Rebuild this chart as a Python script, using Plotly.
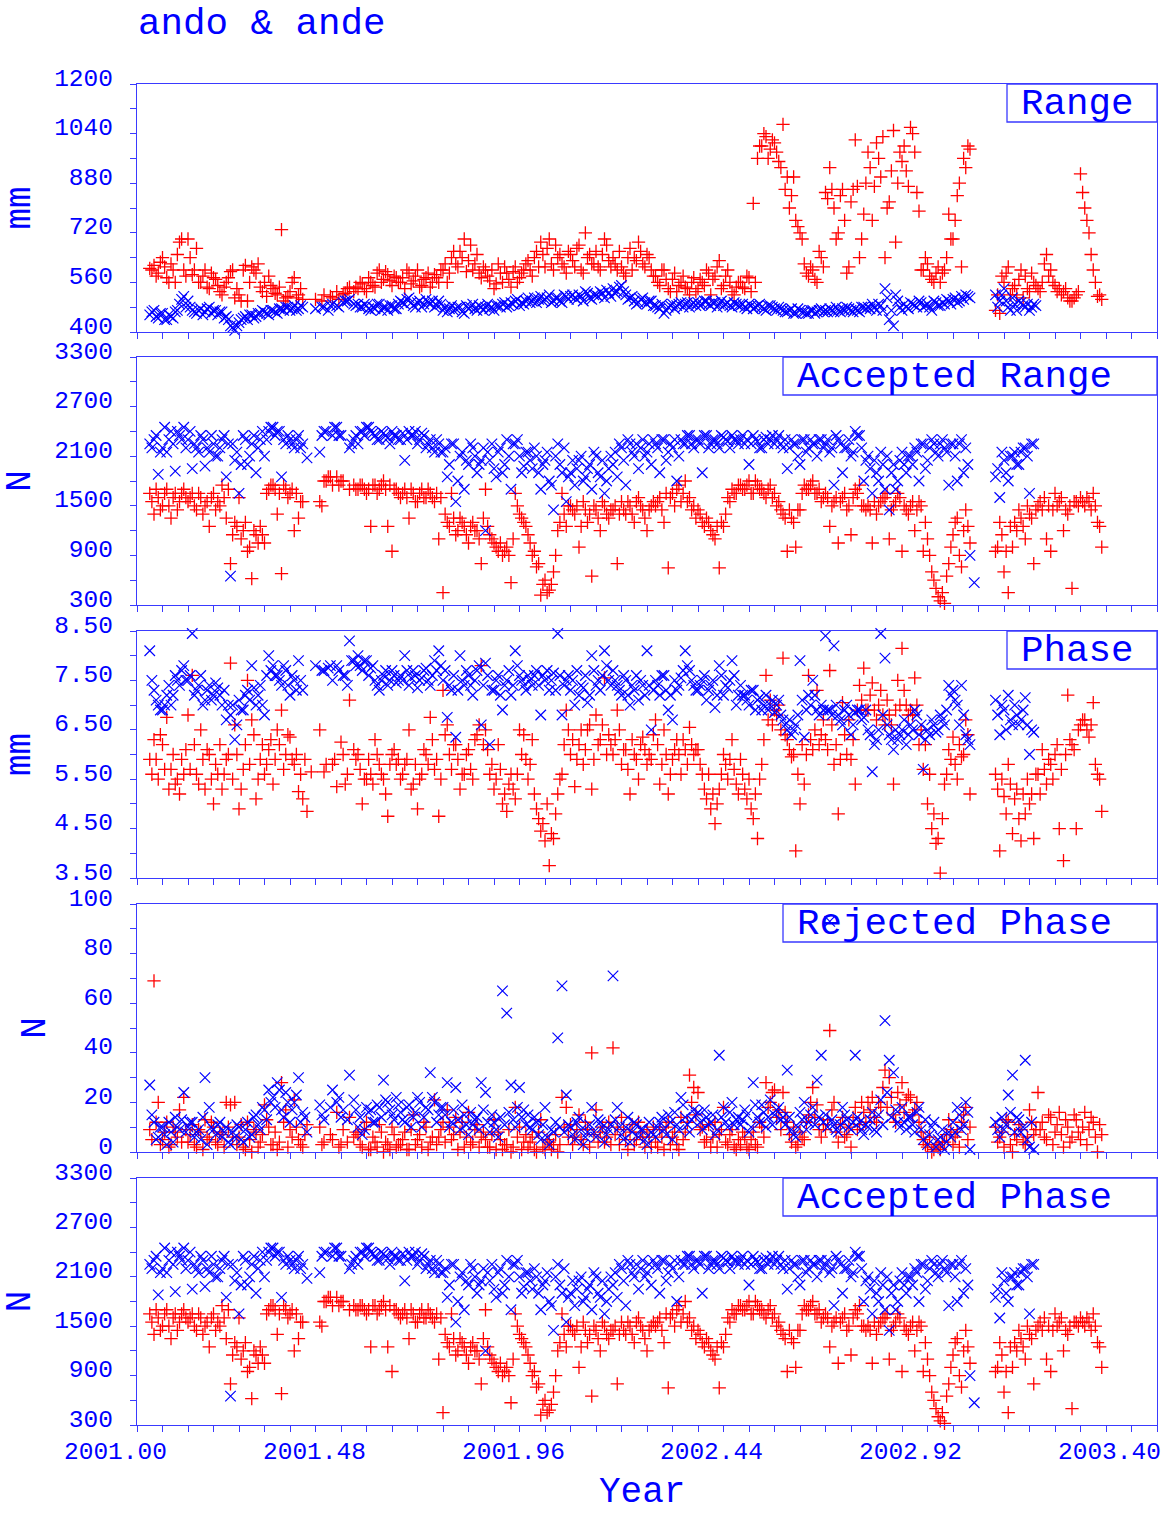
import plotly.graph_objects as go

# ---------------- data ----------------
years = [
    2001.02, 2001.03, 2001.04, 2001.05, 2001.06, 2001.07, 2001.08, 2001.09, 2001.10, 2001.11,
    2001.12, 2001.13, 2001.14, 2001.15, 2001.16, 2001.17, 2001.18, 2001.19, 2001.20, 2001.21,
    2001.22, 2001.23, 2001.24, 2001.25, 2001.26, 2001.27, 2001.28, 2001.29, 2001.30, 2001.31,
    2001.32, 2001.33, 2001.34, 2001.35, 2001.36, 2001.37, 2001.38, 2001.39, 2001.40, 2001.41,
    2001.42, 2001.43, 2001.44, 2001.45, 2001.46, 2001.47, 2001.48, 2001.49, 2001.50, 2001.51,
    2001.52, 2001.53, 2001.54, 2001.55, 2001.56, 2001.57, 2001.58, 2001.59, 2001.60, 2001.61,
    2001.62, 2001.63, 2001.64, 2001.65, 2001.66, 2001.67, 2001.68, 2001.69, 2001.70, 2001.71,
    2001.72, 2001.73, 2001.74, 2001.75, 2001.76, 2001.77, 2001.78, 2001.79, 2001.80, 2001.81,
    2001.82, 2001.83, 2001.84, 2001.85, 2001.86, 2001.87, 2001.88, 2001.89, 2001.90, 2001.91,
    2001.92, 2001.93, 2001.94, 2001.95, 2001.96, 2001.97, 2001.98, 2001.99, 2002.00, 2002.01,
    2002.02, 2002.03, 2002.04, 2002.05, 2002.06, 2002.07, 2002.08, 2002.09, 2002.10, 2002.11,
    2002.12, 2002.13, 2002.14, 2002.15, 2002.16, 2002.17, 2002.18, 2002.19, 2002.20, 2002.21,
    2002.22, 2002.23, 2002.24, 2002.25, 2002.26, 2002.27, 2002.28, 2002.29, 2002.30, 2002.31,
    2002.32, 2002.33, 2002.34, 2002.35, 2002.36, 2002.37, 2002.38, 2002.39, 2002.40, 2002.41,
    2002.42, 2002.43, 2002.44, 2002.45, 2002.46, 2002.47, 2002.48, 2002.49, 2002.50, 2002.51,
    2002.52, 2002.53, 2002.54, 2002.55, 2002.56, 2002.57, 2002.58, 2002.59, 2002.60, 2002.61,
    2002.62, 2002.63, 2002.64, 2002.65, 2002.66, 2002.67, 2002.68, 2002.69, 2002.70, 2002.71,
    2002.72, 2002.73, 2002.74, 2002.75, 2002.76, 2002.77, 2002.78, 2002.79, 2002.80, 2002.81,
    2002.82, 2002.83, 2002.84, 2002.85, 2002.86, 2002.87, 2002.88, 2002.89, 2002.90, 2002.91,
    2002.92, 2002.93, 2002.94, 2002.95, 2002.96, 2002.97, 2002.98, 2002.99, 2003.00, 2003.01,
    2003.02, 2003.03, 2003.04, 2003.05, 2003.06, 2003.07, 2003.08, 2003.09, 2003.10, 2003.11,
    2003.12, 2003.13, 2003.14, 2003.15, 2003.16, 2003.17, 2003.18, 2003.19, 2003.20, 2003.21,
    2003.22, 2003.23, 2003.24, 2003.25, 2003.26, 2003.27, 2003.28, 2003.29, 2003.30, 2003.31,
]
years_b = [
    2001.025, 2001.035, 2001.045, 2001.055, 2001.065, 2001.075, 2001.085, 2001.095, 2001.105, 2001.115,
    2001.125, 2001.135, 2001.145, 2001.155, 2001.165, 2001.175, 2001.185, 2001.195, 2001.205, 2001.215,
    2001.225, 2001.235, 2001.245, 2001.255, 2001.265, 2001.275, 2001.285, 2001.295, 2001.305, 2001.315,
    2001.325, 2001.335, 2001.345, 2001.355, 2001.365, 2001.375, 2001.385, 2001.395, 2001.405, 2001.415,
    2001.425, 2001.435, 2001.445, 2001.455, 2001.465, 2001.475, 2001.485, 2001.495, 2001.505, 2001.515,
    2001.525, 2001.535, 2001.545, 2001.555, 2001.565, 2001.575, 2001.585, 2001.595, 2001.605, 2001.615,
    2001.625, 2001.635, 2001.645, 2001.655, 2001.665, 2001.675, 2001.685, 2001.695, 2001.705, 2001.715,
    2001.725, 2001.735, 2001.745, 2001.755, 2001.765, 2001.775, 2001.785, 2001.795, 2001.805, 2001.815,
    2001.825, 2001.835, 2001.845, 2001.855, 2001.865, 2001.875, 2001.885, 2001.895, 2001.905, 2001.915,
    2001.925, 2001.935, 2001.945, 2001.955, 2001.965, 2001.975, 2001.985, 2001.995, 2002.005, 2002.015,
    2002.025, 2002.035, 2002.045, 2002.055, 2002.065, 2002.075, 2002.085, 2002.095, 2002.105, 2002.115,
    2002.125, 2002.135, 2002.145, 2002.155, 2002.165, 2002.175, 2002.185, 2002.195, 2002.205, 2002.215,
    2002.225, 2002.235, 2002.245, 2002.255, 2002.265, 2002.275, 2002.285, 2002.295, 2002.305, 2002.315,
    2002.325, 2002.335, 2002.345, 2002.355, 2002.365, 2002.375, 2002.385, 2002.395, 2002.405, 2002.415,
    2002.425, 2002.435, 2002.445, 2002.455, 2002.465, 2002.475, 2002.485, 2002.495, 2002.505, 2002.515,
    2002.525, 2002.535, 2002.545, 2002.555, 2002.565, 2002.575, 2002.585, 2002.595, 2002.605, 2002.615,
    2002.625, 2002.635, 2002.645, 2002.655, 2002.665, 2002.675, 2002.685, 2002.695, 2002.705, 2002.715,
    2002.725, 2002.735, 2002.745, 2002.755, 2002.765, 2002.775, 2002.785, 2002.795, 2002.805, 2002.815,
    2002.825, 2002.835, 2002.845, 2002.855, 2002.865, 2002.875, 2002.885, 2002.895, 2002.905, 2002.915,
    2002.925, 2002.935, 2002.945, 2002.955, 2002.965, 2002.975, 2002.985, 2002.995, 2003.005, 2003.015,
    2003.025, 2003.035, 2003.045, 2003.055, 2003.065, 2003.075, 2003.085, 2003.095, 2003.105, 2003.115,
    2003.125, 2003.135, 2003.145, 2003.155, 2003.165, 2003.175, 2003.185, 2003.195, 2003.205, 2003.215,
    2003.225, 2003.235, 2003.245, 2003.255, 2003.265, 2003.275, 2003.285, 2003.295, 2003.305, 2003.315,
]
N = None

# ---- Range (mm) ----
range_ando = [  # red +
    N, 605, 615, 590, 640, 575, 620, 560, 690, 600,
    700, 585, 670, 560, 600, 540, 575, 550, 520, 560,
    595, 510, 520, 600, 500, 610, 590, 545, 560, 580,
    540, 520, 730, 510, 530, 575, 520, 505, N, N,
    505, N, 520, N, 510, 530, N, 525, 545, 530,
    540, 555, 530, 560, 545, 600, 570, 585, 550, 575,
    560, 540, 590, 565, 600, 550, 575, 545, 585, 560,
    600, 560, 640, 620, 660, 700, 630, 600, 650, 575,
    600, 565, 540, 620, 560, 590, 545, 610, 575, 600,
    630, 580, 660, 690, 610, 700, 600, 640, 620, 590,
    650, 610, 680, 590, 640, 620, 660, 600, 700, 630,
    640, 600, 610, 580, 670, 640, 690, 620, 650, 600,
    580, 550, 600, 540, 570, 530, 560, 545, 520, 575,
    540, 560, 600, 520, 580, 630, 550, 600, 530, 545,
    560, 540, 575, 815, 960, 1000, 1030, 990, 1010, 950,
    1070, 900, 840, 760, 720, 620, 580, 600, 560, 640,
    850, 930, 800, 720, 860, 590, 820, 1020, 640, 780,
    980, 760, 1010, 900, 640, 820, 1050, 880, 950, 920,
    1060, 980, 790, 600, 620, 570, 590, 560, 600, 780,
    700, 840, 610, 930, 990, N, N, N, N, N,
    470, 460, 560, 610, 540, 520, 600, 580, 530, 560,
    540, 560, 650, 600, 550, 540, 530, 510, 500, 520,
    910, 800, 720, 600, 515, 505, N, N, N, N,
]
range_ando_b = [
    N, 600, 580, 625, 610, 560, 600, 650, 700, 580,
    640, 600, 560, 580, 545, 590, 570, 530, 545, 575,
    600, 540, 500, 615, 560, 600, 620, 530, 515, 550,
    525, 545, 500, 515, 560, 510, 540, N, N, N,
    N, 500, N, 515, N, 505, 520, 540, N, 545,
    560, 540, 575, 550, 590, 560, 595, 565, 580, 560,
    575, 600, 555, 580, 545, 570, 590, 560, 575, 600,
    620, 590, 660, 610, 640, 595, 680, 620, 590, 610,
    580, 600, 555, 590, 610, 570, 595, 560, 590, 620,
    600, 640, 610, 650, 670, 620, 680, 650, 610, 660,
    630, 670, 600, 720, 650, 620, 610, 650, 680, 610,
    620, 660, 590, 640, 600, 630, 660, 610, 640, 580,
    560, 600, 570, 530, 590, 550, 580, 540, 560, 530,
    570, 550, 590, 570, 610, 540, 580, 560, 520, 560,
    545, 580, 530, 560, 1000, 1040, 960, 1020, 980, 930,
    860, 800, 900, 740, 700, 590, 610, 570, 660, 610,
    830, 860, 700, 840, 760, 610, 860, 870, 700, 880,
    930, 870, 960, 1030, 800, 920, 690, 980, 1000, 870,
    1040, 850, 600, 640, 580, 560, 610, 590, 640, 700,
    760, 880, 960, 1000, N, N, N, N, N, N,
    520, 580, 590, 520, 550, 570, 510, 540, 590, 550,
    530, 620, 580, 560, 530, 520, 540, 500, 510, 530,
    850, 760, 650, 560, 520, N, N, N, N, N,
]
range_ande = [  # blue x
    N, 455, 470, 445, 460, 440, 450, 465, 490, 515,
    500, 470, 460, 475, 465, 480, 470, 455, 465, 450,
    420, 405, 430, 445, 440, 455, 450, 460, 465, 455,
    470, 460, 475, 480, 470, 485, 475, 480, N, N,
    475, N, 480, 470, 490, 485, N, 500, 505, 490,
    490, 480, 485, 470, 475, 490, 480, 470, 485, 475,
    500, 490, 510, 485, 495, 480, 505, 490, 480, 500,
    470, 465, 485, 475, 480, 460, 475, 490, 470, 480,
    480, 475, 470, 485, 490, 480, 495, 500, 485, 490,
    510, 500, 495, 515, 505, 520, 500, 510, 495, 515,
    515, 510, 520, 500, 525, 505, 520, 530, 510, 525,
    540, 530, 550, 520, 510, 500, 495, 510, 490, 500,
    485, 475, 460, 480, 490, 485, 495, 490, 480, 495,
    495, 490, 500, 485, 495, 490, 485, 495, 480, 490,
    485, 480, 490, 475, 485, 480, 470, 485, 475, 480,
    470, 465, 475, 460, 470, 465, 460, 470, 465, 475,
    470, 475, 465, 470, 475, 480, 470, 475, 465, 480,
    480, 490, 470, 485, 540, 440, 420, 500, 470, 480,
    495, 485, 500, 480, 490, 470, 495, 485, 490, 500,
    505, 495, 515, 520, 510, N, N, N, N, N,
    520, 500, 540, 480, 510, 470, 495, 480, 470, 490,
    N, N, N, N, N, N, N, N, N, N,
    N, N, N, N, N, N, N, N, N, N,
]
range_ande_b = [
    N, 465, 450, 460, 440, 455, 445, 470, 505, 480,
    480, 465, 470, 455, 475, 460, 470, 465, 445, 440,
    415, 420, 440, 450, 455, 445, 460, 470, 460, 470,
    465, 475, 470, 480, 475, 470, 485, N, N, N,
    N, 480, N, 485, N, 480, 495, 500, N, 485,
    480, 490, 475, 480, 490, 470, 480, 485, 475, 490,
    495, 505, 495, 480, 500, 490, 495, 500, 485, 490,
    480, 475, 470, 480, 465, 485, 480, 475, 485, 470,
    490, 480, 485, 480, 495, 485, 490, 505, 495, 500,
    495, 510, 505, 500, 510, 495, 510, 500, 520, 505,
    520, 505, 515, 530, 510, 520, 515, 525, 535, 515,
    525, 545, 530, 505, 515, 490, 505, 495, 500, 485,
    480, 490, 470, 485, 475, 490, 480, 495, 490, 485,
    485, 500, 490, 495, 480, 500, 490, 485, 495, 485,
    490, 475, 485, 480, 490, 475, 485, 480, 470, 475,
    465, 470, 460, 475, 465, 460, 470, 460, 470, 465,
    465, 470, 480, 465, 470, 475, 465, 470, 480, 475,
    475, 480, 490, 470, 510, 470, 520, 480, 490, 475,
    490, 480, 495, 485, 480, 500, 485, 495, 505, 490,
    510, 500, 505, 515, N, N, N, N, N, N,
    480, 520, 500, 470, 490, 500, 485, 490, 480, 485,
    N, N, N, N, N, N, N, N, N, N,
    N, N, N, N, N, N, N, N, N, N,
]

# ---- Accepted Range (N) ----
acc_range_ando = [
    N, 1650, 1400, 1600, 1500, 1700, 1350, 1650, 1550, 1700,
    1550, 1650, 1450, 1600, 1500, 1250, 1650, 1550, 1750, 1350,
    800, 1300, 1600, 1200, 950, 620, 1150, 1250, 1050, 1700,
    1750, 1400, 680, 1700, 1650, 1200, 1350, 1550, N, N,
    N, 1550, 1800, 1850, 1750, 1850, 1800, N, 1700, 1750,
    1700, 1750, 1650, 1250, 1750, 1700, 1800, 1250, 950, 1700,
    1600, 1700, 1350, 1650, 1550, 1700, 1600, 1650, 1550, 1100,
    450, 1300, 1650, 1150, 1350, 1250, 1050, 1300, 1200, 800,
    1700, 1150, 1050, 950, 900, 1000, 570, 1650, 1400, 1300,
    1150, 900, 760, 420, 600, 480, 700, 1200, 1650, 1250,
    1500, 1400, 1000, 1550, 1300, 650, 1450, 1200, 1500, 1350,
    1450, 800, 1550, 1400, 1500, 1300, 1600, 1450, 1200, 1500,
    1500, 1600, 1300, 750, 1650, 1700, 1550, 1800, 1600, 1500,
    1450, 1300, 1350, 1200, 1100, 750, 1250, 1600, 1700, 1650,
    1750, 1700, 1800, 1650, 1750, 1700, 1600, 1750, 1650, 1550,
    1400, 950, 1350, 1000, 1450, 1750, 1700, 1800, 1650, 1550,
    1650, 1250, 1550, 1050, 1600, 1450, 1150, 1700, 1750, 1500,
    1500, 1050, 1400, 1550, 1600, 1100, 1500, 1650, 950, 1450,
    1500, 1200, 1550, 950, 1100, 700, 500, 350, 320, 800,
    1150, 1350, 760, 1450, 1050, N, N, N, N, N,
    950, 1300, 700, 450, 1000, 1200, 1350, 1100, 1400, 800,
    1500, 1450, 1100, 950, 1650, 1550, 1200, 1400, 500, 1550,
    1600, 1500, 1550, 1650, 1300, 1000, N, N, N, N,
]
acc_range_ando_b = [
    N, 1550, 1700, 1450, 1650, 1500, 1600, 1450, 1650, 1600,
    1600, 1500, 1650, 1400, 1550, 1600, 1450, 1500, 1600, 1700,
    1150, 1250, 1100, 1300, 1000, 1200, 1050, 1150, 1650, 1750,
    1700, 1650, 1750, 1600, 1700, 1650, 1550, N, N, N,
    N, 1500, 1800, 1850, N, 1750, 1800, N, N, 1700,
    1750, 1700, 1700, 1750, 1650, 1750, 1700, 1750, 1700, 1650,
    1650, 1600, 1700, 1550, 1650, 1600, 1700, 1600, 1650, 1600,
    1400, 1250, 1350, 1200, 1300, 1150, 1250, 1200, 1100, 1350,
    1250, 1100, 1000, 1050, 950, 900, 1100, 1500, 1350, 1250,
    1050, 950, 800, 550, 450, 550, 900, 1300, 1400, 1500,
    1450, 1500, 1250, 1450, 1400, 1500, 1350, 1550, 1400, 1450,
    1500, 1400, 1450, 1550, 1400, 1550, 1500, 1350, 1450, 1550,
    1550, 1450, 1650, 1600, 1500, 1750, 1650, 1550, 1450, 1350,
    1400, 1250, 1300, 1150, 1250, 1300, 1400, 1550, 1650, 1750,
    1700, 1750, 1650, 1800, 1700, 1650, 1700, 1600, 1500, 1450,
    1350, 1450, 1300, 1450, 1650, 1700, 1750, 1650, 1700, 1600,
    1600, 1500, 1600, 1550, 1650, 1500, 1600, 1650, 1500, 1450,
    1450, 1550, 1500, 1600, 1650, 1450, 1550, 1600, 1500, 1400,
    1550, 1450, 1500, 1300, 900, 600, 400, 450, 650, 1000,
    1300, 900, 1200, 1250, N, N, N, N, N, N,
    1000, 1150, 950, 1250, 1300, 1450, 1250, 1500, 1350, 1450,
    1550, 1600, 1500, 1450, 1500, 1600, 1450, 1500, 1550, 1500,
    1550, 1600, 1450, 1500, 1250, N, N, N, N, N,
]
acc_range_ande = [
    N, 2250, 2300, 1880, 2200, 2150, 2400, 1920, 2350, 2450,
    2300, 1950, 2200, 2350, 1980, 2150, 2250, 2100, 2300, 1850,
    650, 2050, 1650, 2350, 2000, 2250, 1900, 2300, 2100, 2400,
    2450, 2400, 1850, 2250, 2300, 2200, 2350, 2250, 2080, N,
    N, 2150, 2400, N, 2350, 2450, 2350, N, 2200, 2300,
    2250, 2400, 2450, 2400, 2350, 2300, 2380, 2320, 2400, 2350,
    2300, 2050, 2400, 2350, 2250, 2380, 2200, 2300, 2150, 2250,
    2150, 1850, 2250, 1550, 2100, 1700, 2000, 2200, 1900, 2050,
    1200, 2050, 1950, 2150, 1900, 2300, 1700, 2250, 2100, 1980,
    2150, 1950, 2100, 1700, 2050, 1800, 1450, 2250, 1900, 1550,
    1900, 1750, 2050, 1800, 1950, 1700, 2100, 1850, 1650, 1950,
    2000, 1850, 2200, 1750, 2250, 2100, 1950, 2300, 2150, 2000,
    2250, 1900, 2300, 2150, 2200, 1800, 2300, 2250, 2350, 2200,
    2300, 1900, 2350, 2250, 2300, 2200, 2330, 2280, 2350, 2300,
    2300, 2250, 2000, 2350, 2280, 2200, 2330, 2300, 2250, 2350,
    2200, 1950, 2300, 2250, 2000, 2300, 2200, 2250, 2100, 2300,
    2250, 2150, 1750, 2300, 1900, 2200, 2100, 2400, 2350, 1800,
    2100, 1650, 1900, 2150, 1700, 1450, 2000, 1800, 2150, 1900,
    2100, 2200, 1800, 2250, 2050, 2300, 2150, 2250, 2200, 1750,
    2250, 1800, 2300, 2200, 900, 570, N, N, N, N,
    1850, 1600, 2050, 1800, 2100, 2000, 2150, 2200, 1650, 2250,
    N, N, N, N, N, N, N, N, N, N,
    N, N, N, N, N, N, N, N, N, N,
]
acc_range_ande_b = [
    N, 2200, 2350, 2150, 2450, 2300, 2250, 2400, 2300, 2200,
    2400, 2250, 2150, 2300, 2200, 2350, 2100, 2200, 2350, 2250,
    2250, 2150, 2000, 2300, 2100, 2350, 2200, 2400, 2300, 2450,
    2350, 2400, 2300, 2350, 2250, 2300, 2200, N, N, N,
    N, 2350, 2400, N, 2450, 2350, N, N, 2250, 2350,
    2400, 2350, 2450, 2380, 2300, 2400, 2350, 2250, 2350, 2300,
    2380, 2300, 2350, 2400, 2300, 2350, 2250, 2200, 2300, 2150,
    2200, 2000, 2250, 1800, 2150, 2050, 2250, 2100, 2000, 2200,
    2150, 2250, 1850, 2200, 2000, 2100, 2250, 2300, 1900, 2150,
    2050, 2200, 1900, 2000, 2150, 1750, 2100, 2000, 2200, 1850,
    2050, 1950, 2100, 1850, 2000, 2150, 1900, 2050, 1800, 2100,
    2150, 2250, 2050, 2300, 2150, 2250, 2200, 2100, 2250, 2300,
    2200, 2300, 2050, 2250, 2300, 2100, 2250, 2350, 2250, 2300,
    2250, 2350, 2200, 2300, 2250, 2350, 2300, 2200, 2300, 2250,
    2350, 2300, 2250, 2300, 2200, 2300, 2250, 2350, 2300, 2250,
    2300, 2200, 2250, 2100, 2300, 2150, 2300, 2250, 2300, 2200,
    2300, 2200, 2350, 2250, 2200, 2300, 2150, 2350, 2200, 2050,
    1950, 2050, 1800, 2000, 2100, 1900, 1700, 2050, 2000, 2100,
    2000, 2150, 2250, 1950, 2200, 2250, 2100, 2300, 2150, 2250,
    2100, 2250, 1900, 2000, N, N, N, N, N, N,
    1950, 2150, 1900, 2100, 2150, 2000, 2200, 2100, 2250, N,
    N, N, N, N, N, N, N, N, N, N,
    N, N, N, N, N, N, N, N, N, N,
]

# ---- Phase (mm) ----
phase_ando = [
    N, 5.9, 6.3, 5.5, 6.2, 6.75, 5.7, 5.4, 5.2, 5.6,
    6.8, 7.6, 5.6, 6.5, 5.3, 6.0, 5.0, 5.6, 5.3, 5.9,
    7.85, 6.6, 4.9, 5.7, 7.5, 6.7, 5.1, 5.9, 5.6, 6.1,
    5.4, 6.5, 6.9, 6.0, 6.35, 5.8, 5.25, 5.1, 4.85, 5.65,
    N, 6.5, 5.65, N, 5.8, 5.35, 6.25, 5.4, 7.1, 6.1,
    6.0, 5.0, 5.5, 5.6, 6.3, 5.8, 5.5, 4.75, 6.0, 5.8,
    5.5, 5.8, 6.5, 5.4, 4.9, 5.6, 6.0, 6.75, 5.7, 4.75,
    7.3, 6.6, 5.7, 6.2, 5.3, 5.6, 6.1, 5.5, 6.4, 7.8,
    6.5, 5.6, 5.3, 6.2, 5.0, 4.85, 5.6, 5.1, 6.5, 6.4,
    5.5, 6.3, 4.9, 4.45, 4.25, 3.75, 4.3, 5.2, 5.6, 6.9,
    6.0, 5.35, 6.2, 5.8, 6.5, 5.3, 6.8, 6.3, 7.55, 6.4,
    6.0, 6.9, 5.8, 6.1, 5.2, 6.0, 5.5, 6.35, 5.8, 5.9,
    6.7, 5.4, 6.5, 5.2, 5.9, 6.3, 5.6, 6.1, 6.55, 6.0,
    6.1, 5.6, 5.1, 4.9, 4.6, 5.3, 6.0, 5.5, 6.3, 5.4,
    5.9, 5.3, 5.5, 4.7, 4.3, 5.8, 7.6, 7.1, 6.9, 7.0,
    7.95, 6.3, 5.95, 4.05, 5.0, 5.4, 7.6, 6.1, 7.3, 6.4,
    6.3, 7.7, 5.8, 4.8, 7.05, 6.0, 5.9, 5.4, 7.4, 7.75,
    6.9, 7.45, 6.7, 7.3, 6.6, 6.8, 5.4, 7.5, 8.15, 7.0,
    6.9, 7.55, 6.2, 5.7, 5.0, 4.5, 4.2, 3.6, 5.4, 6.1,
    6.35, 5.5, 5.95, 6.7, 5.2, N, N, N, N, N,
    5.6, 4.05, 5.15, 5.8, 4.4, 5.3, 4.25, 4.8, 5.0, 4.3,
    5.6, 6.1, 5.4, 5.8, 6.0, 4.5, 3.85, 7.2, 6.2, 4.5,
    6.6, 6.7, 6.35, 7.05, 5.6, 4.85, N, N, N, N,
]
phase_ando_b = [
    N, 5.6, 5.9, 6.4, 5.7, 5.3, 6.0, 5.5, 5.9, 6.1,
    5.7, 6.2, 5.4, 5.9, 6.1, 5.5, 5.8, 6.2, 5.6, 6.0,
    5.5, 6.0, 5.3, 6.2, 5.8, 6.4, 5.5, 6.2, 5.8, 6.3,
    5.9, 6.2, 5.7, 6.4, 5.9, 6.0, 5.6, 5.9, N, N,
    N, N, 5.8, N, 5.9, N, 6.0, 5.6, N, 5.9,
    5.7, 5.5, 5.9, 5.4, 6.0, 5.6, 5.2, 5.8, 6.1, 5.9,
    5.6, 5.9, 5.3, 5.8, 5.5, 6.1, 5.8, 6.3, 5.9, 5.5,
    6.4, 6.0, 6.2, 5.9, 5.6, 6.0, 5.7, 6.3, 6.6, 6.2,
    6.1, 5.8, 5.5, 5.7, 5.2, 5.4, 5.3, 5.6, 6.0, 5.9,
    5.8, 5.2, 4.7, 4.6, 5.0, 4.4, 4.8, 5.5, 6.2, 6.5,
    6.3, 5.9, 6.5, 6.1, 6.6, 5.9, 6.2, 6.6, 6.0, 6.2,
    6.3, 6.5, 6.1, 5.7, 6.3, 5.9, 6.2, 6.1, 6.0, 6.4,
    6.2, 5.8, 6.0, 5.6, 6.1, 6.0, 6.3, 5.8, 6.2, 6.1,
    5.8, 5.3, 5.6, 5.2, 5.0, 5.6, 5.8, 5.9, 5.7, 5.2,
    5.6, 5.1, 4.9, 5.2, 5.5, 6.3, 6.7, 6.6, 6.8, 6.5,
    6.4, 6.1, 6.0, 5.6, 6.2, 6.0, 6.3, 6.5, 6.2, 6.7,
    6.1, 6.6, 6.2, 5.9, 6.4, 6.7, 6.3, 6.9, 7.1, 6.9,
    7.2, 6.9, 7.0, 6.8, 7.1, 6.6, 6.9, 7.0, 7.3, 6.8,
    6.8, 7.0, 6.5, 6.2, 5.6, 4.8, 4.3, 4.7, 5.6, 5.9,
    5.8, 6.2, 6.0, 6.4, N, N, N, N, N, N,
    5.3, 5.5, 4.8, 5.4, 5.1, 4.7, 5.2, 5.5, 5.2, 5.6,
    5.2, 5.7, 5.9, 5.5, 6.2, 5.7, 6.0, 6.3, 6.1, 6.5,
    6.7, 6.5, 6.6, 5.8, 5.5, N, N, N, N, N,
]
phase_ande = [
    N, 8.1, 7.3, 7.0, 6.9, 7.2, 7.0, 7.6, 7.4, 7.8,
    7.5, 8.45, 7.3, 7.6, 7.1, 7.4, 7.2, 7.35, 7.0, 6.7,
    6.8, 6.3, 7.1, 6.9, 7.3, 7.8, 7.0, 7.4, 6.8, 8.0,
    7.8, 7.6, 7.4, 7.7, 7.2, 7.5, 7.9, 7.3, N, N,
    7.8, N, 7.7, 7.75, 7.5, 7.8, N, 7.6, 8.3, 7.9,
    8.0, 7.7, 7.9, 7.75, 7.5, 7.3, 7.6, 7.4, 7.7, 7.45,
    7.6, 8.0, 7.4, 7.7, 7.35, 7.55, 7.75, 7.4, 7.9, 8.1,
    7.5, 6.75, 7.3, 6.35, 8.0, 7.4, 7.6, 7.2, 7.7, 6.6,
    7.85, 6.2, 7.3, 7.6, 6.9, 7.5, 7.2, 8.1, 7.6, 7.4,
    7.6, 7.4, 7.7, 6.8, 7.5, 7.3, 7.65, 8.45, 6.8, 7.5,
    7.3, 7.0, 7.2, 7.35, 7.05, 8.0, 7.4, 7.3, 8.1, 7.5,
    7.7, 7.4, 7.2, 7.5, 7.0, 7.3, 7.1, 7.4, 8.1, 6.5,
    7.5, 7.2, 7.6, 6.9, 6.7, 7.3, 7.55, 8.1, 7.7, 7.4,
    7.3, 7.5, 7.1, 7.4, 6.95, 7.8, 7.2, 7.35, 7.9, 7.0,
    7.4, 7.2, 7.0, 7.3, 7.1, 6.9, 7.2, 7.0, 6.85, 7.1,
    6.7, 6.5, 6.4, 6.6, 7.9, 6.35, 7.2, 7.5, 6.9, 7.0,
    8.4, 6.9, 8.2, 6.8, 6.6, 7.0, 6.4, 6.85, 6.9, 6.75,
    6.5, 5.65, 6.3, 8.45, 7.95, 6.4, 6.1, 6.3, 6.5, 6.2,
    6.6, 6.9, 6.4, 5.7, 6.5, 6.7, 6.45, 6.8, 6.6, 7.4,
    7.3, 7.0, 7.4, 6.4, 6.2, N, N, N, N, N,
    7.1, 6.4, 6.9, 7.2, 6.6, 6.8, 6.7, 7.15, 6.0, 6.45,
    N, N, N, N, N, N, N, N, N, N,
    N, N, N, N, N, N, N, N, N, N,
]
phase_ande_b = [
    N, 7.5, 7.1, 6.9, 7.0, 7.4, 7.2, 7.5, 7.7, 7.5,
    7.6, 7.2, 7.4, 7.0, 7.3, 7.1, 7.45, 7.2, 7.3, 7.0,
    7.0, 6.6, 6.9, 7.2, 7.1, 7.35, 7.2, 7.0, 7.6, 7.7,
    7.6, 7.5, 7.8, 7.4, 7.6, 7.3, 7.5, N, N, N,
    N, 7.7, N, 7.8, N, 7.7, 7.6, 7.4, 7.9, 7.8,
    7.8, 7.9, 7.6, 7.8, 7.4, 7.5, 7.7, 7.5, 7.6, 7.5,
    7.5, 7.7, 7.55, 7.6, 7.5, 7.7, 7.5, 7.6, 7.7, 7.8,
    7.7, 7.4, 7.6, 7.3, 7.5, 7.7, 7.4, 7.5, 7.8, 7.4,
    7.6, 7.3, 7.5, 7.2, 7.4, 7.7, 7.4, 7.8, 7.5, 7.3,
    7.5, 7.6, 7.4, 7.6, 7.7, 7.5, 7.3, 7.6, 7.4, 7.6,
    7.5, 7.7, 7.4, 7.6, 7.2, 7.7, 7.5, 7.6, 7.8, 7.4,
    7.5, 7.3, 7.6, 7.2, 7.4, 7.6, 7.5, 7.2, 7.4, 7.3,
    7.4, 7.6, 7.3, 7.2, 7.5, 7.4, 7.7, 7.8, 7.5, 7.3,
    7.4, 7.6, 7.3, 7.5, 7.2, 7.6, 7.4, 7.5, 7.6, 7.2,
    7.2, 7.1, 7.3, 6.9, 7.15, 7.0, 6.9, 7.1, 7.0, 6.8,
    6.6, 6.7, 6.5, 6.8, 7.1, 6.9, 7.0, 7.2, 6.8, 6.9,
    6.9, 6.8, 7.0, 6.7, 6.9, 6.8, 6.6, 6.9, 6.7, 6.9,
    6.4, 6.2, 6.5, 6.8, 6.6, 6.3, 6.5, 6.4, 6.7, 6.4,
    6.5, 6.8, 6.6, 6.3, 6.4, 6.6, 6.5, 6.7, 6.9, 7.2,
    7.1, 6.6, 6.8, 6.3, N, N, N, N, N, N,
    6.8, 7.0, 6.5, 6.7, 7.0, 6.6, 6.9, 6.6, 6.5, N,
    N, N, N, N, N, N, N, N, N, N,
    N, N, N, N, N, N, N, N, N, N,
]

# ---- Rejected Phase (N) ----
rej_phase_ando = [
    N, 9, 69, 20, 5, 12, 3, 8, 17, 22,
    4, 11, 2, 8, 13, 5, 10, 3, 7, 20,
    19, 20, 6, 2, 12, 0, 8, 4, 19, 10,
    3, 1, 28, 17, 9, 21, 5, 2, 11, N,
    N, 10, 4, N, 5, 16, 3, N, 14, 6,
    7, 2, 12, 1, 4, 11, 0, 3, 10, 2,
    3, 8, 1, 15, 5, 2, 10, 4, 21, 6,
    12, 17, 5, 14, 8, 2, 16, 4, 11, 6,
    5, 2, 13, 8, 1, 3, 0, 18, 10, 4,
    2, 6, 0, 13, 1, 4, 3, 0, 22, 18,
    11, 6, 15, 3, 9, 40, 17, 8, 4, 12,
    42, 10, 14, 5, 8, 3, 12, 6, 9, 2,
    4, 9, 1, 12, 6, 3, 14, 8, 31, 26,
    24, 10, 5, 2, 12, 7, 18, 3, 9, 1,
    3, 6, 1, 8, 2, 10, 28, 20, 25, 17,
    24, 12, 4, 2, 8, 5, 15, 26, 19, 6,
    9, 49, 20, 4, 14, 7, 2, 18, 11, 16,
    20, 22, 12, 18, 33, 30, 15, 24, 28, 21,
    22, 17, 12, 5, 2, 0, 3, 1, 4, 13,
    3, 8, 12, 18, 10, N, N, N, N, N,
    10, 6, 2, 12, 0, 5, 9, 3, 17, 7,
    24, 12, 5, 14, 8, 16, 2, 10, 6, 13,
    5, 16, 9, 12, 0, 7, N, N, N, N,
]
rej_phase_ando_b = [
    N, 5, 12, 3, 8, 2, 10, 6, 4, 9,
    7, 3, 9, 1, 6, 12, 4, 8, 2, 10,
    6, 3, 11, 1, 5, 9, 2, 7, 13, 3,
    8, 4, 12, 2, 6, 10, 3, 7, N, N,
    N, 3, N, 7, N, 2, 9, 4, N, 8,
    3, 9, 1, 6, 2, 8, 4, 1, 7, 3,
    5, 1, 9, 3, 7, 12, 1, 6, 3, 9,
    4, 10, 7, 1, 12, 6, 3, 9, 2, 8,
    2, 7, 1, 5, 3, 9, 2, 6, 1, 7,
    4, 1, 8, 2, 5, 1, 7, 3, 10, 6,
    3, 9, 5, 12, 2, 7, 4, 10, 6, 3,
    7, 3, 9, 1, 11, 5, 8, 2, 6, 10,
    2, 6, 10, 3, 8, 1, 5, 12, 20, 15,
    9, 4, 11, 6, 2, 9, 4, 7, 2, 5,
    8, 2, 5, 3, 12, 6, 18, 24, 14, 9,
    16, 7, 10, 3, 6, 12, 20, 14, 9, 11,
    13, 17, 8, 11, 6, 10, 14, 9, 20, 12,
    17, 14, 20, 26, 18, 22, 12, 19, 16, 23,
    15, 20, 8, 3, 6, 1, 2, 4, 7, 9,
    6, 2, 15, 5, N, N, N, N, N, N,
    4, 8, 13, 3, 7, 11, 4, 6, 12, 9,
    9, 6, 15, 3, 11, 7, 13, 4, 15, 8,
    10, 3, 14, 6, 11, N, N, N, N, N,
]
rej_phase_ande = [
    N, 27, 12, 6, 10, 3, 8, 14, 9, 24,
    10, 12, 8, 5, 30, 18, 9, 11, 6, 10,
    3, 6, 10, 4, 12, 7, 15, 9, 17, 25,
    22, 28, 17, 24, 12, 20, 30, 16, 8, N,
    N, 19, 13, N, 25, 20, 14, N, 31, 21,
    10, 7, 18, 17, 12, 18, 29, 20, 15, 22,
    16, 12, 19, 14, 22, 10, 18, 32, 20, 15,
    18, 28, 12, 26, 9, 15, 7, 11, 14, 28,
    24, 8, 12, 6, 65, 56, 27, 10, 26, 17,
    15, 9, 12, 5, 18, 3, 8, 46, 67, 23,
    10, 5, 14, 3, 8, 18, 6, 12, 4, 9,
    71, 18, 7, 10, 4, 12, 6, 9, 3, 8,
    6, 12, 9, 15, 5, 11, 22, 14, 8, 17,
    16, 9, 14, 12, 7, 39, 18, 10, 20, 13,
    11, 17, 8, 28, 14, 19, 10, 21, 15, 18,
    14, 33, 9, 6, 16, 20, 12, 18, 29, 39,
    15, 93, 11, 8, 18, 13, 9, 39, 12, 7,
    10, 16, 8, 21, 53, 37, 32, 12, 18, 9,
    14, 8, 18, 5, 3, 10, 2, 6, 1, 8,
    12, 18, 9, 20, 1, N, N, N, N, N,
    12, 6, 9, 23, 31, 14, 8, 37, 2, 1,
    N, N, N, N, N, N, N, N, N, N,
    N, N, N, N, N, N, N, N, N, N,
]
rej_phase_ande_b = [
    N, 15, 5, 10, 7, 12, 4, 10, 13, 8,
    12, 6, 9, 14, 3, 10, 7, 12, 8, 4,
    8, 11, 5, 9, 6, 14, 11, 18, 13, 20,
    18, 25, 14, 20, 17, 23, 12, 14, N, N,
    N, 15, N, 18, N, 22, 17, 13, N, 17,
    14, 9, 16, 12, 19, 14, 21, 17, 13, 19,
    13, 18, 10, 16, 20, 14, 17, 22, 12, 18,
    15, 10, 17, 13, 19, 11, 16, 13, 9, 17,
    12, 15, 9, 14, 11, 16, 13, 18, 14, 11,
    10, 14, 7, 11, 6, 9, 12, 10, 8, 11,
    7, 12, 9, 6, 11, 8, 13, 10, 7, 11,
    13, 10, 5, 14, 8, 11, 9, 5, 12, 7,
    10, 14, 7, 12, 16, 9, 19, 11, 13, 15,
    12, 17, 11, 15, 9, 14, 12, 16, 11, 14,
    13, 15, 10, 19, 12, 16, 14, 11, 17, 13,
    11, 14, 7, 10, 13, 9, 15, 11, 14, 12,
    10, 13, 9, 11, 15, 10, 12, 14, 9, 11,
    13, 9, 15, 11, 24, 14, 17, 10, 12, 14,
    11, 16, 9, 13, 7, 12, 5, 9, 4, 6,
    8, 15, 11, 16, N, N, N, N, N, N,
    9, 14, 11, 16, 8, 13, 10, 5, 12, N,
    N, N, N, N, N, N, N, N, N, N,
    N, N, N, N, N, N, N, N, N, N,
]

# ---- Accepted Phase (N): visually identical to Accepted Range in the reference ----
acc_phase_ando = list(acc_range_ando)
acc_phase_ando_b = list(acc_range_ando_b)
acc_phase_ande = list(acc_range_ande)
acc_phase_ande_b = list(acc_range_ande_b)

for arr in (range_ando, range_ande, acc_range_ando, acc_range_ande, phase_ando,
            phase_ande, rej_phase_ando, rej_phase_ande):
    assert len(arr) == len(years), len(arr)
for arr in (range_ando_b, range_ande_b, acc_range_ando_b, acc_range_ande_b, phase_ando_b,
            phase_ande_b, rej_phase_ando_b, rej_phase_ande_b):
    assert len(arr) == len(years_b), len(arr)

panel_titles = ["Range", "Accepted Range", "Phase", "Rejected Phase", "Accepted Phase"]
y_titles = ["mm", "N", "mm", "N", "N"]
y_ranges = [(400, 1200), (300, 3300), (3.5, 8.5), (0, 100), (300, 3300)]
y_dticks = [160, 600, 1.0, 20, 600]
y_minor = [80, 300, 0.5, 10, 300]
y_formats = ["d", "d", ".2f", "d", "d"]
x_tick_labels = ["2001.00", "2001.48", "2001.96", "2002.44", "2002.92", "2003.40"]
series = [
    (range_ando, range_ando_b, range_ande, range_ande_b),
    (acc_range_ando, acc_range_ando_b, acc_range_ande, acc_range_ande_b),
    (phase_ando, phase_ando_b, phase_ande, phase_ande_b),
    (rej_phase_ando, rej_phase_ando_b, rej_phase_ande, rej_phase_ande_b),
    (acc_phase_ando, acc_phase_ando_b, acc_phase_ande, acc_phase_ande_b),
]

# ---------------- layout geometry (pixels of the reference) ----------------
W, H = 1170, 1513


def fx(X):
    return X / W


def fy(Y):
    return 1 - Y / H


panel_px = [(84, 332), (357, 605), (631, 878), (904, 1152), (1178, 1425)]
box_left = [1007, 783, 1007, 783, 783]
LEFT, RIGHT = 137, 1157
XLAB_X0, XLAB_STEP, XLAB_Y = 115.5, 198.8, 1452

BLUE = "#0000ff"
AXC = "#3a3aff"
FONT = "Liberation Mono, Courier New, monospace"

fig = go.Figure()
layout = dict(
    width=W, height=H, margin=dict(l=0, r=0, t=0, b=0),
    paper_bgcolor="white", plot_bgcolor="white", showlegend=False,
    font=dict(family=FONT, color=BLUE),
)
shapes = []
annotations = []

red_marker = dict(symbol="cross-thin", size=9.5, color="red",
                  line=dict(color="red", width=1.3))
blue_marker = dict(symbol="x-thin", size=10.5, color=BLUE,
                   line=dict(color=BLUE, width=1.2))

for i in range(5):
    n = "" if i == 0 else str(i + 1)
    xa, ya = "x" + n, "y" + n
    red_a, red_b, blue_a, blue_b = series[i]
    for xs, ys in ((years, red_a), (years_b, red_b)):
        fig.add_trace(go.Scatter(x=xs, y=ys, mode="markers", xaxis=xa, yaxis=ya,
                                 cliponaxis=False, marker=red_marker, name="ando"))
    for xs, ys in ((years, blue_a), (years_b, blue_b)):
        fig.add_trace(go.Scatter(x=xs, y=ys, mode="markers", xaxis=xa, yaxis=ya,
                                 cliponaxis=False, marker=blue_marker, name="ande"))
    top, bot = panel_px[i]
    layout["xaxis" + n] = dict(
        domain=[fx(LEFT), fx(RIGHT)], anchor=ya, range=[2001.0, 2003.4],
        showline=True, mirror=True, linecolor=AXC, linewidth=1.3,
        ticks="outside", ticklen=6, tickwidth=1, tickcolor=AXC,
        tick0=2001.0, dtick=0.48,
        minor=dict(dtick=0.06, tick0=2001.0, ticks="outside", ticklen=6,
                   tickwidth=1, tickcolor=AXC, showgrid=False),
        showgrid=False, zeroline=False, showticklabels=False,
        automargin=False,
    )
    if i < 4:
        layout["xaxis" + n]["matches"] = "x5"
    lo, hi = y_ranges[i]
    layout["yaxis" + n] = dict(
        domain=[fy(bot), fy(top)], anchor=xa, range=[lo, hi],
        showline=True, mirror=True, linecolor=AXC, linewidth=1.3,
        ticks="outside", ticklen=6, tickwidth=1, tickcolor=AXC,
        tick0=lo, dtick=y_dticks[i], tickformat=y_formats[i],
        minor=dict(dtick=y_minor[i], tick0=lo, ticks="outside", ticklen=6,
                   tickwidth=1, tickcolor=AXC, showgrid=False),
        showgrid=False, zeroline=False,
        tickfont=dict(family=FONT, size=24.5, color=BLUE),
        ticklabelshift=-7, ticklabelstandoff=12,
        title=dict(text=y_titles[i], standoff=12,
                   font=dict(family=FONT, size=36, color=BLUE)),
        automargin=False,
    )
    # label box
    shapes.append(dict(type="rect", xref="paper", yref="paper",
                       x0=fx(box_left[i]), x1=fx(RIGHT), y0=fy(top + 38), y1=fy(top),
                       line=dict(color=AXC, width=1.3), fillcolor="rgba(0,0,0,0)",
                       layer="below"))
    annotations.append(dict(text=panel_titles[i], xref="paper", yref="paper",
                            x=fx(box_left[i] + 12), y=fy(top + 20), xanchor="left",
                            yanchor="middle", showarrow=False,
                            font=dict(family=FONT, size=37.5, color=BLUE)))

# x tick labels of the bottom axis (the reference draws them slightly left of the ticks)
for k, lab in enumerate(x_tick_labels):
    annotations.append(dict(text=lab, xref="paper", yref="paper",
                            x=fx(XLAB_X0 + XLAB_STEP * k), y=fy(XLAB_Y),
                            xanchor="center", yanchor="middle", showarrow=False,
                            font=dict(family=FONT, size=24.5, color=BLUE)))

annotations.append(dict(text="Year", xref="paper", yref="paper",
                        x=fx(642), y=fy(1492), xanchor="center", yanchor="middle",
                        showarrow=False, font=dict(family=FONT, size=36, color=BLUE)))
annotations.append(dict(text="ando & ande", xref="paper", yref="paper",
                        x=fx(136), y=fy(24), xanchor="left", yanchor="middle",
                        showarrow=False, font=dict(family=FONT, size=37.5, color=BLUE)))

layout["shapes"] = shapes
layout["annotations"] = annotations
fig.update_layout(**layout)

fig.write_html("out.html", config={"displayModeBar": False},
               post_script="document.body.style.margin='0';")
